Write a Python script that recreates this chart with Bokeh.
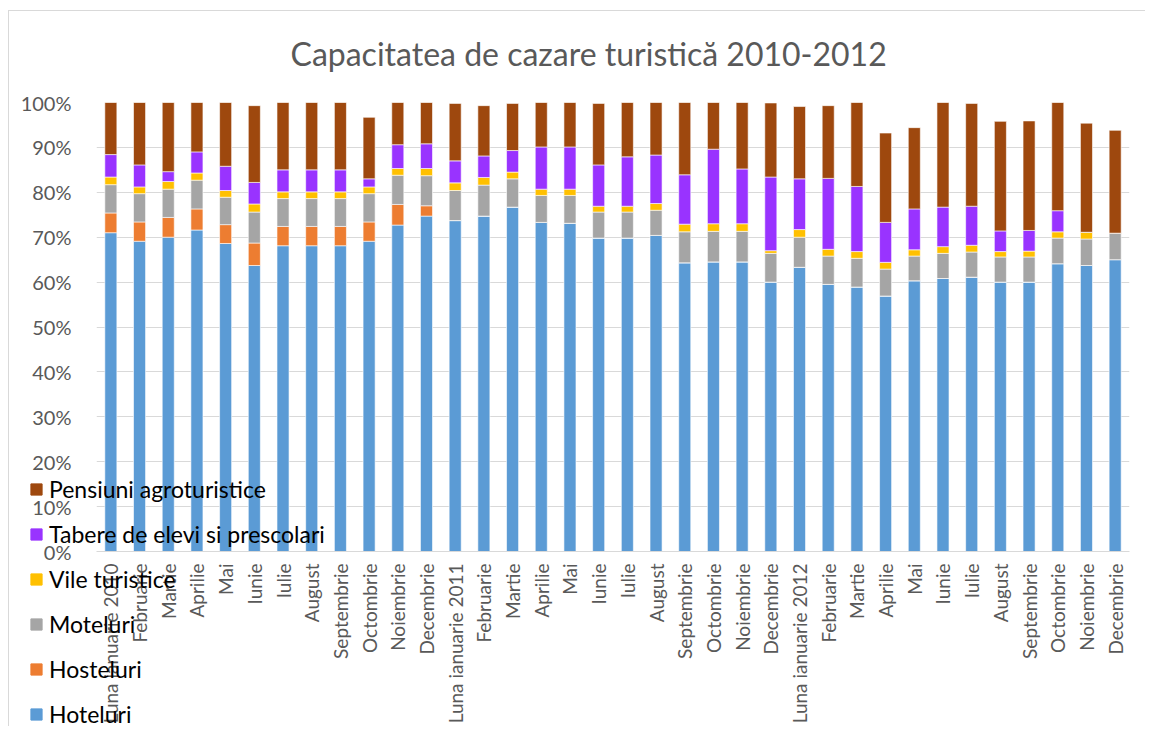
from bokeh.plotting import figure
from bokeh.layouts import column
from bokeh.models import (ColumnDataSource, FixedTicker, Legend, LegendItem, Title,
                          PrintfTickFormatter)
from bokeh.embed import file_html
from bokeh.resources import INLINE
import math

months = ["Luna ianuarie {}", "Februarie", "Martie", "Aprilie", "Mai", "Iunie", "Iulie",
          "August", "Septembrie", "Octombrie", "Noiembrie", "Decembrie"]
years = [2010, 2011, 2012]
labels = []
for yr in years:
    for m in months:
        labels.append(m.format(yr) if "{}" in m else m)

hoteluri = [71.0, 69.1, 70.0, 71.6, 68.6, 63.7, 68.1, 68.1, 68.1, 69.1, 72.7, 74.7,
            73.7, 74.7, 76.7, 73.3, 73.1, 69.8, 69.8, 70.4, 64.3, 64.5, 64.5, 60.0,
            63.3, 59.5, 58.9, 56.9, 60.3, 60.8, 61.1, 60.0, 60.0, 64.1, 63.7, 65.0]
hosteluri = [4.4, 4.3, 4.4, 4.7, 4.2, 5.0, 4.3, 4.3, 4.3, 4.3, 4.6, 2.3,
             0, 0, 0, 0, 0, 0, 0, 0, 0, 0, 0, 0,
             0, 0, 0, 0, 0, 0, 0, 0, 0, 0, 0, 0]
moteluri = [6.3, 6.3, 6.3, 6.4, 6.1, 6.9, 6.2, 6.2, 6.2, 6.3, 6.5, 6.7,
            6.7, 6.9, 6.3, 6.0, 6.2, 5.8, 5.8, 5.6, 6.9, 6.8, 6.8, 6.4,
            6.7, 6.3, 6.4, 6.0, 5.5, 5.6, 5.6, 5.6, 5.6, 5.7, 5.9, 5.9]
vile = [1.7, 1.5, 1.7, 1.6, 1.5, 1.8, 1.5, 1.5, 1.5, 1.5, 1.5, 1.6,
        1.7, 1.7, 1.5, 1.4, 1.4, 1.3, 1.3, 1.5, 1.7, 1.7, 1.7, 0.6,
        1.7, 1.5, 1.5, 1.5, 1.4, 1.5, 1.5, 1.2, 1.3, 1.4, 1.5, 0]
tabere = [5.0, 4.9, 2.2, 4.7, 5.4, 4.8, 4.9, 4.9, 4.9, 1.8, 5.3, 5.5,
          4.9, 4.8, 4.8, 9.4, 9.4, 9.2, 11.0, 10.8, 11.0, 16.6, 12.2, 16.4,
          11.3, 15.8, 14.5, 8.9, 9.1, 8.8, 8.7, 4.6, 4.6, 4.7, 0, 0]
pensiuni = [11.6, 13.9, 15.4, 11.0, 14.2, 17.1, 15.0, 15.0, 15.0, 13.7, 9.4, 9.2,
            12.8, 11.2, 10.5, 9.9, 9.9, 13.7, 12.1, 11.7, 16.1, 10.4, 14.8, 16.5,
            16.1, 16.2, 18.7, 19.9, 18.1, 23.3, 22.9, 24.4, 24.4, 24.1, 24.3, 22.9]

series = ["Hoteluri", "Hosteluri", "Moteluri", "Vile turistice",
          "Tabere de elevi si prescolari", "Pensiuni agroturistice"]
colors = ["#5B9BD5", "#ED7D31", "#A5A5A5", "#FFC000", "#9933FF", "#9E480E"]
yticks = list(range(0, 101, 10))

xs = list(range(len(labels)))
keys = ["Hoteluri", "Hosteluri", "Moteluri", "Vile", "Tabere", "Pensiuni"]
src = ColumnDataSource(dict(x=xs, Hoteluri=hoteluri, Hosteluri=hosteluri,
                            Moteluri=moteluri, Vile=vile, Tabere=tabere,
                            Pensiuni=pensiuni))

FONT = "Lato"
GREY = "#595959"
BORDER = "#D9D9D9"

W, H = 1145, 726
LEFT_B, RIGHT_B = 96, W - 1129
p = figure(width=W, height=H, output_backend="svg", toolbar_location=None,
           x_range=(-0.5, len(labels) - 0.5), y_range=(0, 100),
           min_border_left=LEFT_B, min_border_right=RIGHT_B, min_border_top=102,
           min_border_bottom=H - 554)
p.border_fill_alpha = 0
p.styles = {
    "background": ("linear-gradient(%s,%s) 8px 10px / 100%% 1px no-repeat, "
                   "linear-gradient(%s,%s) 8px 10px / 1px 100%% no-repeat, white")
                  % (BORDER, BORDER, BORDER, BORDER)
}

renderers = p.vbar_stack(keys, x="x", width=0.42, source=src, color=colors,
                         line_color="white", line_alpha=0.6, line_width=1)

title = Title(text="Capacitatea de cazare turistică 2010-2012", align="left",
              offset=194, text_font=FONT, text_font_size="32px",
              text_font_style="normal", text_color=GREY, standoff=60)
p.add_layout(title, "above")

p.outline_line_color = None
p.background_fill_color = "white"

p.xgrid.grid_line_color = None
p.ygrid.grid_line_color = BORDER
p.ygrid.grid_line_width = 1
p.yaxis.ticker = FixedTicker(ticks=yticks)
p.yaxis.formatter = PrintfTickFormatter(format="%d%%")
p.yaxis.axis_line_color = None
p.yaxis.major_tick_line_color = None
p.yaxis.minor_tick_line_color = None
p.yaxis.major_label_text_font = FONT
p.yaxis.major_label_text_font_size = "20px"
p.yaxis.major_label_text_color = GREY
p.yaxis.major_label_standoff = 19

p.xaxis.ticker = FixedTicker(ticks=xs)
p.xaxis.major_label_overrides = {i: lab for i, lab in enumerate(labels)}
p.xaxis.major_label_orientation = math.pi / 2
p.xaxis.axis_line_color = BORDER
p.xaxis.axis_line_width = 1
p.xaxis.major_tick_line_color = None
p.xaxis.minor_tick_line_color = None
p.xaxis.major_label_text_font = FONT
p.xaxis.major_label_text_font_size = "19px"
p.xaxis.major_label_text_color = GREY
p.xaxis.major_label_standoff = 6

# Legend overlaid at the lower left (separate transparent plot, as in the reference
# where the legend sits over the axis labels). The column aligns the plot frames,
# so this plot's frame starts LEFT_B px after its own left edge.
LEG_TOP, LEG_X, LEG_W, LEG_H = 475, 29, 470, 254
lp = figure(width=LEG_W, height=LEG_H, output_backend="svg", toolbar_location=None,
            x_range=(0, 1), y_range=(0, 1), min_border=0,
            x_axis_location=None, y_axis_location=None,
            margin=(LEG_TOP - H, 0, 0, LEG_X - LEFT_B))
lp.grid.visible = False
lp.outline_line_color = None
lp.background_fill_alpha = 0
lp.border_fill_alpha = 0
dummy = {}
for k, c in zip(keys, colors):
    dummy[k] = lp.rect(x=[-10], y=[-10], width=[0.1], height=[0.1],
                       fill_color=c, line_color=c)
items = [LegendItem(label=series[i], renderers=[dummy[keys[i]]]) for i in range(5, -1, -1)]
legend = Legend(items=items, location="top_left", orientation="vertical",
                glyph_width=14, glyph_height=14, label_height=28, spacing=17,
                label_text_font=FONT, label_text_font_size="23px",
                label_text_color="black", label_standoff=6,
                padding=0, margin=0, background_fill_alpha=0,
                border_line_color=None)
lp.add_layout(legend, "center")

layout = column(p, lp, spacing=0)
open("out.html", "w").write(file_html(layout, INLINE))
